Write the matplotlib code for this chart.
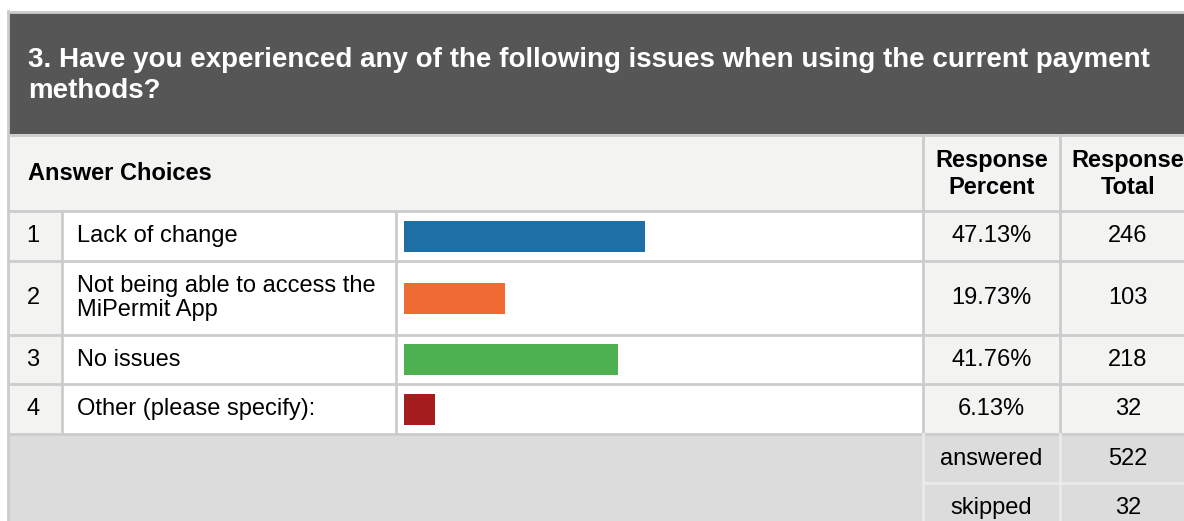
import matplotlib
matplotlib.use("Agg")
import matplotlib.pyplot as plt
from matplotlib.patches import Rectangle

# data
title_lines = ["3. Have you experienced any of the following issues when using the current payment",
               "methods?"]
choices = ["Lack of change", "Not being able to access the\nMiPermit App", "No issues",
           "Other (please specify):"]
percents = [47.13, 19.73, 41.76, 6.13]
totals = [246, 103, 218, 32]
bar_colors = ["#1d6fa5", "#f06a33", "#4db151", "#a51c1f"]
answered = 522
skipped = 32

# layout (pixels)
W, H = 1184, 521
row_h = [50, 74, 49, 50]
row_top0 = 211
x_num, x_lab, x_bar, x_pct, x_tot, x_end = 8, 62, 396, 923, 1060, 1196
line_c = "#cccccc"
light = "#f3f3f2"
foot = "#dcdcdc"
fs = 17
font = "Liberation Sans"

fig = plt.figure(figsize=(W / 100, H / 100), dpi=100)
ax = fig.add_axes([0, 0, 1, 1])
ax.set_xlim(0, W)
ax.set_ylim(H, 0)
ax.axis("off")

def rect(x0, y0, x1, y1, c, z=1):
    ax.add_patch(Rectangle((x0, y0), x1 - x0, y1 - y0, facecolor=c, edgecolor="none", zorder=z))

# header
rect(x_num, 12, W, 134, "#555655")
for i, t in enumerate(title_lines):
    ax.text(28, 67 + 31 * i, t, color="white", fontsize=20, fontweight="bold",
            family=font, va="baseline", ha="left")

# column header row
rect(x_num, 135, W, row_top0, light)
ax.text(28, 173, "Answer Choices", fontsize=fs, fontweight="bold", family=font,
        va="center", ha="left")
for cx, lines in [((x_pct + x_tot) / 2, ["Response", "Percent"]),
                  ((x_tot + x_end) / 2, ["Response", "Total"])]:
    for j, t in enumerate(lines):
        ax.text(cx, 167 + 27 * j, t, fontsize=fs, fontweight="bold", family=font,
                va="baseline", ha="center")

# data rows
tops = [row_top0]
for h in row_h:
    tops.append(tops[-1] + h)
centers = [(tops[i] + tops[i + 1]) / 2 for i in range(len(row_h))]
bottom = tops[-1]

rect(x_num, row_top0, x_lab, bottom, light)
rect(x_lab, row_top0, x_pct, bottom, "white")
rect(x_pct, row_top0, W, bottom, light)

for i, c in enumerate(centers):
    ax.text(33, c, str(i + 1), fontsize=fs, family=font, va="center", ha="center")
    ax.text(77, c, choices[i], fontsize=fs, family=font, va="center", ha="left",
            linespacing=1.15)
    ax.text((x_pct + x_tot) / 2, c, f"{percents[i]:.2f}%", fontsize=fs, family=font,
            va="center", ha="center")
    ax.text((x_tot + x_end) / 2, c, str(totals[i]), fontsize=fs, family=font,
            va="center", ha="center")

# footer
rect(x_num, bottom, W, H, foot)
foot_rows = [("answered", answered), ("skipped", skipped)]
for k, (lab, val) in enumerate(foot_rows):
    cy = bottom + 25 + 49 * k
    ax.text((x_pct + x_tot) / 2, cy, lab, fontsize=fs, family=font, va="center", ha="center")
    ax.text((x_tot + x_end) / 2, cy, str(val), fontsize=fs, family=font, va="center", ha="center")

# grid lines
for y in tops:
    ax.plot([x_num, W], [y, y], color=line_c, lw=2, zorder=3, solid_capstyle="butt")
ax.plot([x_num, W], [134.5, 134.5], color=line_c, lw=2, zorder=3)
ax.plot([x_num, W], [11.5, 11.5], color=line_c, lw=2, zorder=3)
ax.plot([7.5, 7.5], [11, H], color=line_c, lw=2, zorder=3)
for x in (x_lab, x_bar):
    ax.plot([x - 0.5, x - 0.5], [row_top0, bottom], color=line_c, lw=2, zorder=3)
for x in (x_pct, x_tot):
    ax.plot([x - 0.5, x - 0.5], [135, bottom], color=line_c, lw=2, zorder=3)
    ax.plot([x - 0.5, x - 0.5], [bottom, H], color="#eaeaea", lw=2, zorder=3)
ax.plot([x_pct, W], [bottom + 49, bottom + 49], color="#eaeaea", lw=2, zorder=3)

# bars
bar_left, px_per_pct = 404, 5.114
bax = fig.add_axes([bar_left / W, 1 - bottom / H, 100 * px_per_pct / W, (bottom - row_top0) / H])
bax.set_xlim(0, 100)
bax.set_ylim(bottom, row_top0)
bax.axis("off")
bax.patch.set_alpha(0)
bax.barh(centers, percents, height=31, color=bar_colors)

fig.savefig("out.png", dpi=100)
